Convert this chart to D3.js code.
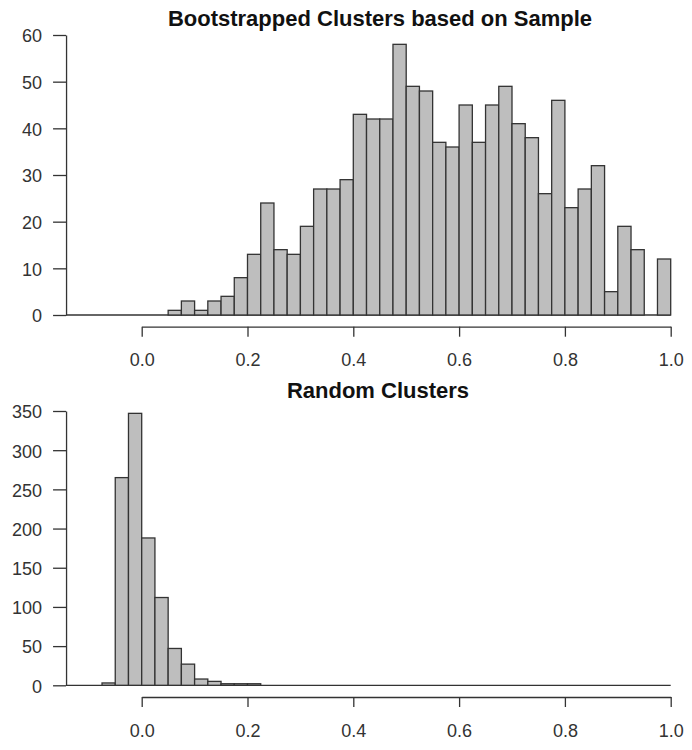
<!DOCTYPE html>
<html>
<head>
<meta charset="utf-8">
<script src="https://cdn.jsdelivr.net/npm/d3@7"></script>
<style>
  body { margin: 0; background: #fff; }
  svg text { font-family: "Liberation Sans", Arial, sans-serif; }
</style>
</head>
<body>
<div id="chart"></div>
<script>
// histogram bins, width 0.025
const binWidth = 0.025;

// Bootstrapped Clusters based on Sample: bins start at 0.05
const sampleStart = 0.05;
const sampleCounts = [1, 3, 1, 3, 4, 8, 13, 24, 14, 13, 19, 27, 27, 29, 43, 42, 42, 58, 49, 48,
    37, 36, 45, 37, 45, 49, 41, 38, 26, 46, 23, 27, 32, 5, 19, 14, 0, 12];

// Random Clusters: bins start at -0.075
const randomStart = -0.075;
const randomCounts = [3, 265, 347, 188, 112, 47, 27, 8, 5, 2, 2, 2];

const xTicks = [0, 0.2, 0.4, 0.6, 0.8, 1.0];
const sampleYTicks = [0, 10, 20, 30, 40, 50, 60];
const randomYTicks = [0, 50, 100, 150, 200, 250, 300, 350];
const xOrigin = -0.143; // where the y axis sits
const xEnd = 1.0;

const width = 692, height = 750;
const ink = '#333';
const fill = '#bebebe';

const svg = d3.select('#chart').append('svg')
    .attr('width', width)
    .attr('height', height);

const xScale = d3.scaleLinear().domain([0, 1]).range([141.7, 670.7]);

function panel(opts) {
    const yScale = d3.scaleLinear().domain([0, opts.yMax]).range([opts.base, opts.top]);
    const g = svg.append('g');

    const bins = opts.counts.map((c, i) => ({
        x0: opts.start + i * binWidth,
        x1: opts.start + (i + 1) * binWidth,
        n: c
    }));

    // baseline (the empty bins in R's hist)
    g.append('line')
        .attr('x1', xScale(xOrigin))
        .attr('x2', xScale(xEnd))
        .attr('y1', yScale(0))
        .attr('y2', yScale(0))
        .attr('stroke', ink)
        .attr('stroke-width', 1.3);

    g.selectAll('rect')
        .data(bins.filter(d => d.n > 0))
        .enter()
        .append('rect')
        .attr('x', d => xScale(d.x0))
        .attr('width', d => xScale(d.x1) - xScale(d.x0))
        .attr('y', d => yScale(d.n))
        .attr('height', d => yScale(0) - yScale(d.n))
        .attr('fill', fill)
        .attr('stroke', ink)
        .attr('stroke-width', 1.3);

    // y axis
    const ya = g.append('g')
        .attr('transform', `translate(${xScale(xOrigin)},0)`)
        .call(d3.axisLeft(yScale)
            .tickValues(opts.yTicks)
            .tickSize(13)
            .tickSizeOuter(0)
            .tickPadding(11));

    // x axis, drawn below the bars
    const xa = g.append('g')
        .attr('transform', `translate(0,${opts.base + 11.7})`)
        .call(d3.axisBottom(xScale)
            .tickValues(xTicks)
            .tickFormat(d3.format('.1f'))
            .tickSize(10)
            .tickSizeOuter(0)
            .tickPadding(17));

    [ya, xa].forEach(a => {
        a.selectAll('path, line').attr('stroke', ink).attr('stroke-width', 1.3);
        a.selectAll('text').attr('fill', ink).style('font-size', '18px');
    });
    ya.selectAll('text').attr('dy', '0.38em');

    svg.append('text')
        .attr('x', opts.titleX)
        .attr('y', opts.titleY)
        .attr('text-anchor', 'middle')
        .attr('font-weight', 'bold')
        .attr('font-size', '22px')
        .attr('fill', '#111')
        .text(opts.title);
}

panel({
    title: 'Bootstrapped Clusters based on Sample',
    titleX: 380, titleY: 26,
    counts: sampleCounts, start: sampleStart,
    yMax: 60, yTicks: sampleYTicks,
    base: 315, top: 35
});

panel({
    title: 'Random Clusters',
    titleX: 378, titleY: 398,
    counts: randomCounts, start: randomStart,
    yMax: 350, yTicks: randomYTicks,
    base: 685.3, top: 411
});
</script>
</body>
</html>
